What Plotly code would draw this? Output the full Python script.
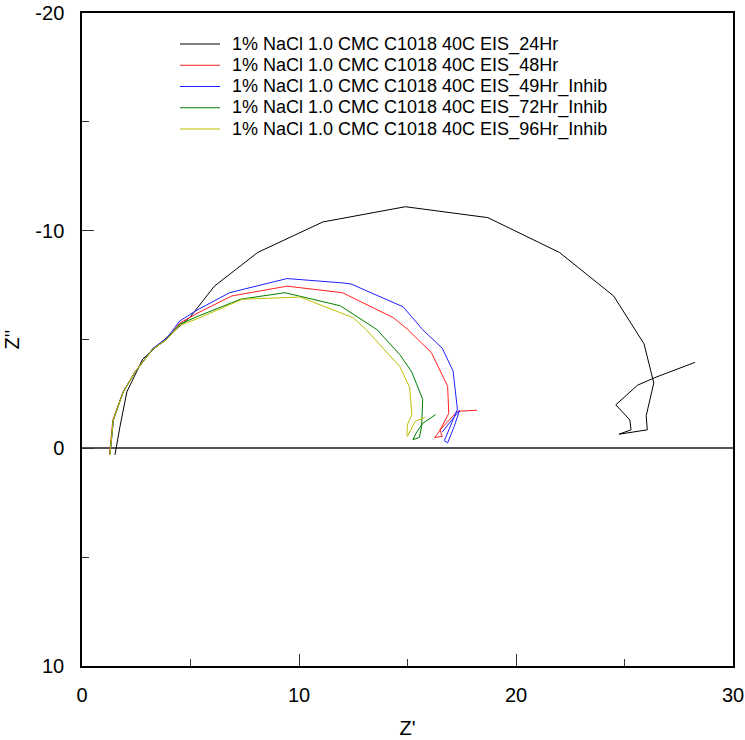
import plotly.graph_objects as go

# ---- data (Z' , Z'') ----
names = [
    "1% NaCl 1.0 CMC C1018 40C EIS_24Hr",
    "1% NaCl 1.0 CMC C1018 40C EIS_48Hr",
    "1% NaCl 1.0 CMC C1018 40C EIS_49Hr_Inhib",
    "1% NaCl 1.0 CMC C1018 40C EIS_72Hr_Inhib",
    "1% NaCl 1.0 CMC C1018 40C EIS_96Hr_Inhib",
]
colors = ["#000000", "#ff2020", "#2020ff", "#008000", "#bfbf00"]

z24_re = [1.52, 1.6, 1.75, 2.07, 2.8, 3.8, 5.0, 6.1, 8.1, 11.1, 14.9, 18.7, 22.0, 24.5,
          25.9, 26.35, 26.0, 26.05, 24.75, 25.3, 25.25, 24.6, 25.6, 26.4, 28.25]
z24_im = [0.3, -0.2, -1.0, -2.6, -4.1, -5.0, -6.05, -7.45, -9.0, -10.4, -11.1, -10.6, -9.0, -7.0,
          -4.8, -3.0, -1.5, -0.85, -0.65, -0.85, -1.3, -2.0, -2.9, -3.25, -3.95]

z48_re = [1.27, 1.32, 1.42, 1.88, 2.43, 3.25, 3.9, 4.5, 5.3, 6.9, 9.45, 12.0, 14.35, 15.0,
          16.1, 16.85, 16.9, 16.45, 16.25, 16.6, 16.5, 17.3, 18.2]
z48_im = [0.28, -0.3, -1.3, -2.57, -3.5, -4.55, -5.0, -5.75, -6.2, -7.0, -7.45, -7.15, -6.0, -5.47,
          -4.4, -2.85, -1.6, -0.75, -0.5, -0.55, -0.85, -1.7, -1.75]

z49_re = [1.3, 1.35, 1.45, 1.9, 2.45, 3.27, 3.9, 4.5, 5.3, 6.8, 9.45, 12.0, 12.4, 14.8,
          15.7, 16.6, 17.1, 17.3, 16.7, 16.85, 17.15, 17.4, 16.6]
z49_im = [0.25, -0.3, -1.3, -2.6, -3.5, -4.6, -5.05, -5.85, -6.35, -7.15, -7.8, -7.6, -7.55, -6.5,
          -5.45, -4.6, -3.55, -1.8, -0.35, -0.25, -1.0, -1.75, -0.75]

z72_re = [1.29, 1.34, 1.44, 1.9, 2.44, 3.26, 3.9, 4.5, 5.3, 7.3, 9.35, 11.9, 13.6, 14.65,
          15.2, 15.7, 15.65, 15.55, 15.25, 15.4, 15.7, 16.3]
z72_im = [0.28, -0.3, -1.3, -2.58, -3.5, -4.55, -5.0, -5.7, -6.05, -6.85, -7.15, -6.55, -5.45, -4.3,
          -3.5, -2.25, -1.0, -0.5, -0.4, -0.7, -1.15, -1.55]

z96_re = [1.29, 1.34, 1.44, 1.9, 2.44, 3.26, 3.9, 4.5, 5.3, 7.4, 9.45, 10.05, 12.5, 13.1,
          14.65, 15.1, 15.2, 15.0, 14.97, 15.0, 15.35, 15.8]
z96_im = [0.28, -0.3, -1.3, -2.58, -3.5, -4.55, -5.0, -5.65, -5.95, -6.85, -6.95, -6.95, -6.0, -5.45,
          -3.75, -2.8, -1.55, -1.1, -0.64, -0.55, -1.24, -1.42]

series_re = [z24_re, z48_re, z49_re, z72_re, z96_re]
series_im = [z24_im, z48_im, z49_im, z72_im, z96_im]

x_ticks = [0, 10, 20, 30]
x_tick_labels = ["0", "10", "20", "30"]
y_ticks = [-20, -10, 0, 10]
y_tick_labels = ["-20", "-10", "0", "10"]

FONT = "Liberation Sans, Arial, sans-serif"

fig = go.Figure()
for name, c, xr, yi in zip(names, colors, series_re, series_im):
    fig.add_trace(go.Scatter(x=xr, y=yi, mode="lines", name=name,
                             line=dict(color=c, width=1), showlegend=False))

# ---- manual legend (plot-area pixel geometry: left 82, right 733, top 13, bottom 666) ----
L, R, T, B = 82, 733, 13, 666
def px(xp):
    return (xp - L) / (R - L)
def py(yp):
    return (B - yp) / (B - T)

shapes = []
annotations = []
for i, (name, c) in enumerate(zip(names, colors)):
    yc = 44 + 21.25 * i
    shapes.append(dict(type="line", xref="paper", yref="paper",
                       x0=px(180), x1=px(220), y0=py(yc), y1=py(yc),
                       line=dict(color=c, width=1)))
    annotations.append(dict(xref="paper", yref="paper", x=px(230), y=py(yc),
                            xanchor="left", yanchor="middle", showarrow=False,
                            text=name, font=dict(family=FONT, size=18, color="black")))

fig.update_layout(
    width=745, height=740,
    margin=dict(l=82, r=12, t=13, b=74),
    paper_bgcolor="white", plot_bgcolor="white",
    font=dict(family=FONT, size=20, color="black"),
    shapes=shapes, annotations=annotations,
    showlegend=False,
)
fig.update_xaxes(
    range=[0, 30], tickvals=x_ticks, ticktext=x_tick_labels,
    ticks="inside", ticklen=12, tickwidth=1,
    tickcolor="#333", showgrid=False, zeroline=False, automargin=False,
    showline=True, linecolor="black", linewidth=1.5, mirror=True,
    minor=dict(dtick=5, ticks="inside", ticklen=7, tickcolor="#333", showgrid=False),
    tickfont=dict(size=20), ticklabelstandoff=10,
    title=dict(text="Z'", font=dict(size=20), standoff=16),
)
fig.update_yaxes(
    range=[10, -20], tickvals=y_ticks, ticktext=y_tick_labels,
    ticks="inside", ticklen=12, tickwidth=1,
    tickcolor="#333", showgrid=False, automargin=False,
    zeroline=True, zerolinecolor="#555", zerolinewidth=1.5,
    showline=True, linecolor="black", linewidth=1.5, mirror=True,
    minor=dict(dtick=5, ticks="inside", ticklen=7, tickcolor="#333", showgrid=False),
    tickfont=dict(size=20), ticklabelstandoff=12,
    title=dict(text="Z''", font=dict(size=20), standoff=10),
)

fig.write_html("out.html")
